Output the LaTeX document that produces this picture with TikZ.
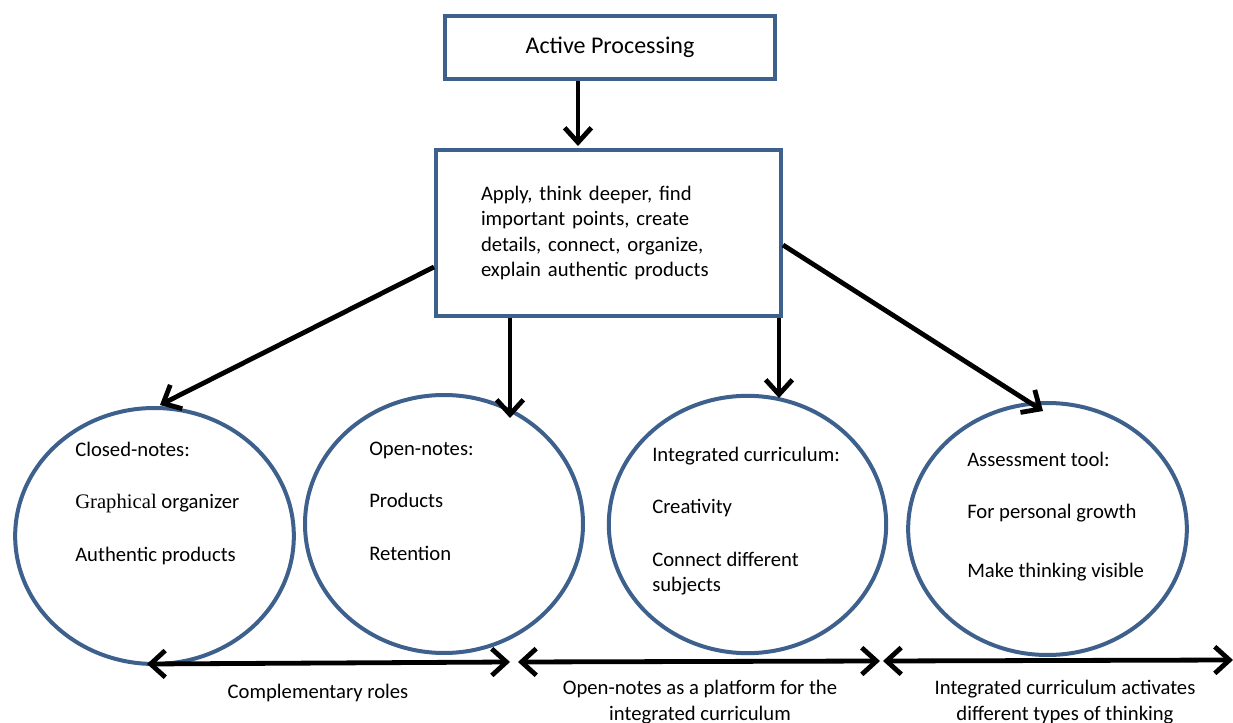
\documentclass[tikz,border=0pt]{standalone}
\usepackage{fontspec}
\setmainfont{Carlito}
\newfontfamily\timesfont{Liberation Serif}
\usetikzlibrary{shapes.geometric,arrows.meta,positioning,calc}
\definecolor{shapeblue}{RGB}{62,96,140}

\begin{document}
\begin{tikzpicture}[
    x=0.75pt, y=-0.75pt,
    font=\fontsize{15.5}{19.2}\selectfont,
    box/.style={rectangle, draw=shapeblue, line width=3pt, inner sep=0pt, align=left},
    bubble/.style={ellipse, draw=shapeblue, line width=3pt, inner sep=0pt},
    note/.style={anchor=north west, align=left, inner sep=0pt},
    arr/.style={-{Straight Barb[length=11pt,width=20pt]}, line width=3.6pt},
    twoway/.style={{Straight Barb[length=11pt,width=20pt]}-{Straight Barb[length=11pt,width=20pt]}, line width=3.6pt},
]
\useasboundingbox (0,0) rectangle (1233,723);

% Process boxes
\node[box, minimum width=247.5pt, minimum height=47pt, font=\fontsize{18}{22}\selectfont] (active) at (610,47.5) {Active Processing};
\node[box, minimum width=258.75pt, minimum height=124.5pt, text width=191.25pt] (main) at (608.5,233)
    {Apply, think deeper, find\\important points, create\\details, connect, organize,\\explain authentic products};

% Circles
\node[bubble, minimum width=209pt, minimum height=192pt] (closed) at (154.5,536) {};
\node[bubble, minimum width=208.5pt, minimum height=193.5pt] (open) at (444,524) {};
\node[bubble, minimum width=208pt, minimum height=193pt] (integ) at (747.5,524.5) {};
\node[bubble, minimum width=209pt, minimum height=189pt] (assess) at (1047.5,529) {};

% Circle texts
\node[note] (closedtxt) at (75,442) {Closed-notes:\\[20pt]{\timesfont Graphical} organizer\\[20pt]Authentic products};
\node[note] (opentxt) at (369,442) {Open-notes:\\[20pt]Products\\[20pt]Retention};
\node[note] (integtxt) at (652,447) {Integrated curriculum:\\[20pt]Creativity\\[20pt]Connect different\\subjects};
\node[note] (assesstxt) at (967,452) {Assessment tool:\\[20pt]For personal growth\\[25pt]Make thinking visible};

% Arrows down
\coordinate (t0) at (578,146);
\draw[arr] (active.south -| t0) -- (t0);
\coordinate (t1) at (160,405);
\draw[arr] ($(main.west)+(0,34)$) -- (t1);
\coordinate (t2) at (510,418);
\draw[arr] (main.south -| t2) -- (t2);
\coordinate (t3) at (779,398);
\draw[arr] (main.south -| t3) -- (t3);
\coordinate (t4) at (1043,411);
\draw[arr] ($(main.east)+(0,12)$) -- (t4);

% Links between circles
\coordinate (b0) at (147,664);
\coordinate (b1) at (510,662);
\coordinate (b2) at (518,662);
\coordinate (b3) at (880,661);
\coordinate (b4) at (883,661);
\coordinate (b5) at (1233,660);
\draw[twoway] (b0) -- (b1);
\draw[twoway] (b2) -- (b3);
\draw[twoway] (b4) -- (b5);

% Link labels
\node (roles) at (318,693) {Complementary roles};
\node[align=center] (platform) at (700,702) {Open-notes as a platform for the\\integrated curriculum};
\node[align=center] (thinking) at (1065,702) {Integrated curriculum activates\\different types of thinking};

\end{tikzpicture}
\end{document}
